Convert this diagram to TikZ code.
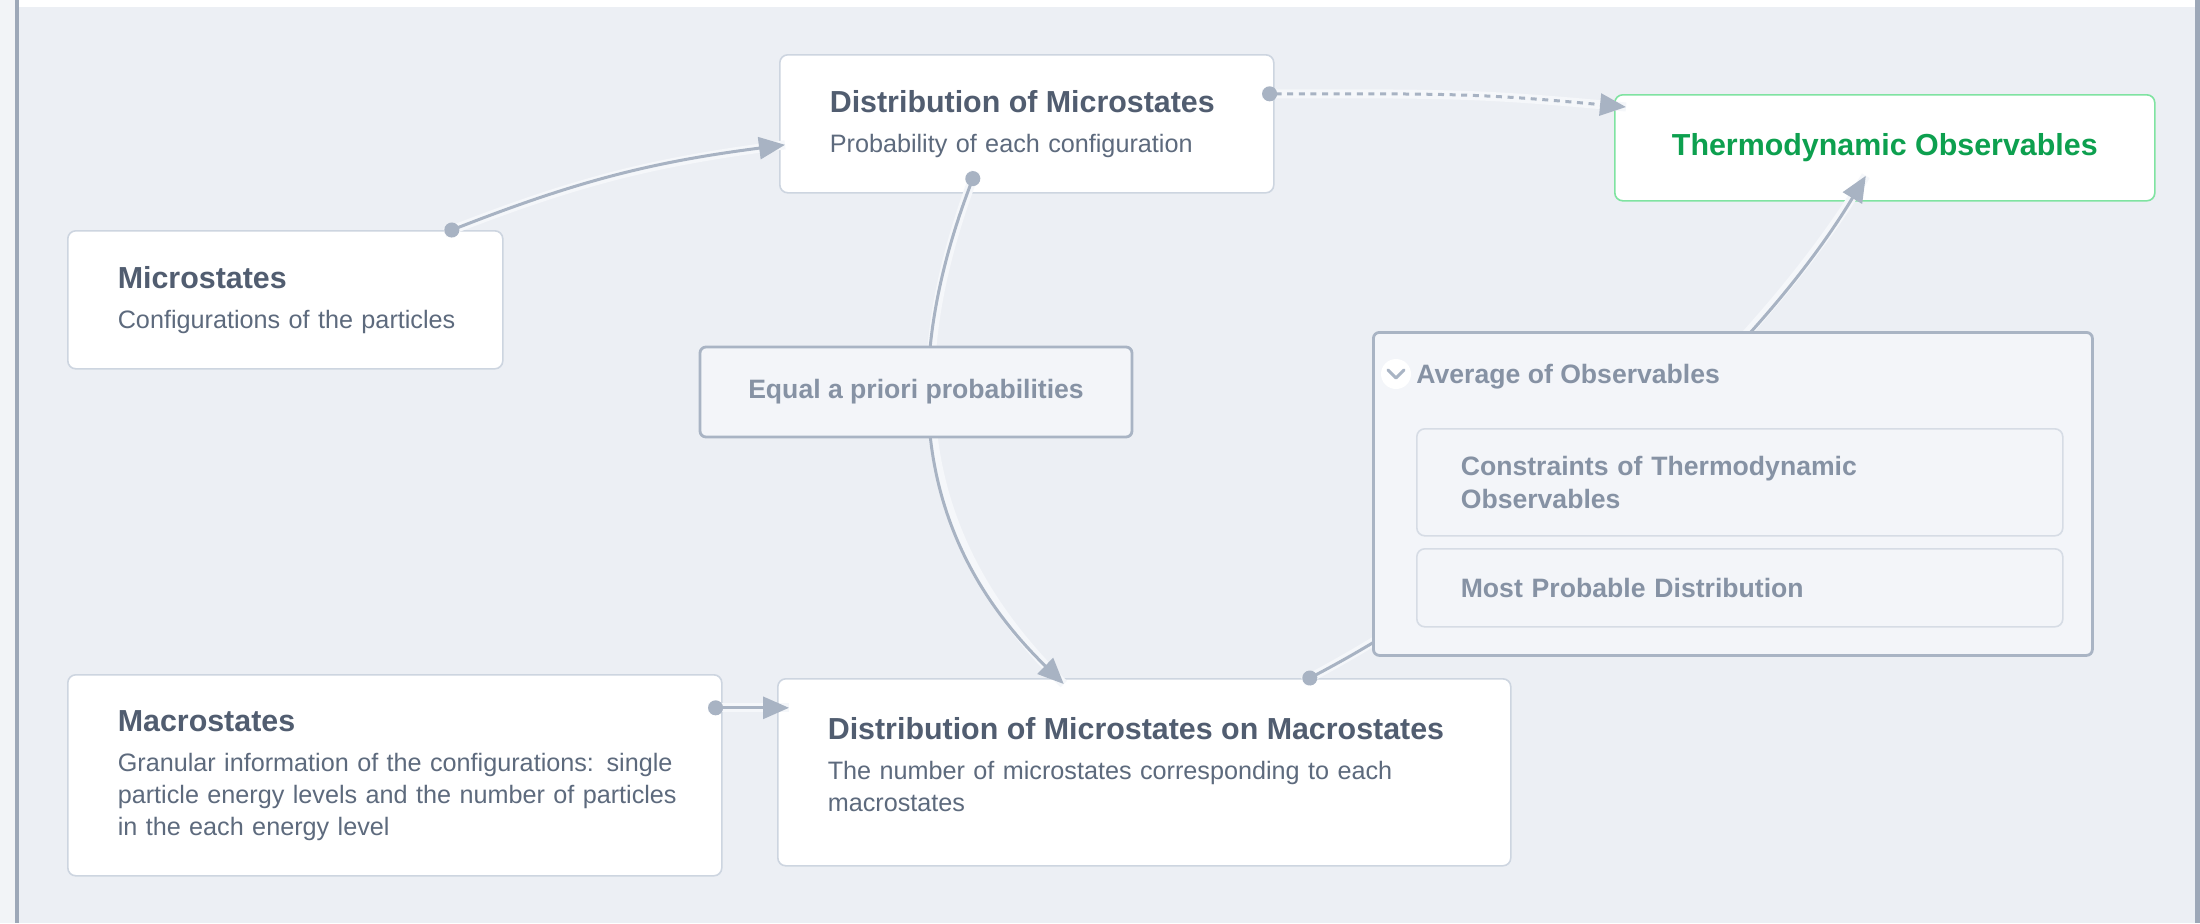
\documentclass[tikz,border=0pt]{standalone}
\usepackage{fontspec}
\setmainfont{Liberation Sans}
\usetikzlibrary{arrows.meta,positioning,calc}

\definecolor{bgcol}{HTML}{ECEFF4}
\definecolor{stripcol}{HTML}{F2F4F7}
\definecolor{framecol}{HTML}{9DA8B8}
\definecolor{cardline}{HTML}{CDD5E0}
\definecolor{titlecol}{HTML}{515D70}
\definecolor{subcol}{HTML}{5D6A7D}
\definecolor{edgecol}{HTML}{A8B3C3}
\definecolor{halocol}{HTML}{F5F7FA}
\definecolor{softfill}{HTML}{F3F5F9}
\definecolor{softline}{HTML}{A9B4C4}
\definecolor{innerline}{HTML}{D6DCE5}
\definecolor{softtext}{HTML}{8692A4}
\definecolor{greenline}{HTML}{7FE3A1}
\definecolor{greentext}{HTML}{0DA04F}

\newcommand{\ttlf}{\fontsize{15.2}{18}\selectfont\bfseries}
\newcommand{\subf}{\fontsize{12.6}{16}\selectfont\mdseries}
\newcommand{\softf}{\fontsize{13.3}{16.5}\selectfont\bfseries}
\newcommand{\cardtitle}[1]{{\ttlf\color{titlecol}#1}\\[4pt]}

\tikzset{
  card/.style 2 args={draw=cardline, fill=white, line width=0.8pt, rounded corners=4pt,
    anchor=north west, inner xsep=0pt, inner ysep=0pt, align=left,
    text width=#1, minimum height=#2, text=subcol, font=\subf,
    execute at begin node={\leftskip=25pt\relax\hyphenpenalty=10000\relax}},
  soft box/.style={draw=softline, fill=softfill, line width=1.4pt, rounded corners=3pt},
  inner box/.style 2 args={draw=innerline, fill=softfill, line width=0.8pt, rounded corners=4pt,
    anchor=north west, inner xsep=0pt, inner ysep=0pt, align=left,
    text width=#1, minimum height=#2, text=softtext, font=\softf,
    execute at begin node={\leftskip=22pt\relax\hyphenpenalty=10000\relax}},
  link/.style={draw=edgecol, line width=1.5pt,
    {Circle[length=7.5pt]}-{Triangle[length=13pt,width=11pt]}, shorten <=-3.75pt,
    preaction={draw=halocol, line width=4.5pt, arrows=-}}
}

\begin{document}
\begin{tikzpicture}[x=0.5pt, y=-0.5pt]
\useasboundingbox (0,0) rectangle (2200,923);

% Frame and background
\fill[stripcol] (0,0) rectangle (15,923);
\fill[white] (19,0) rectangle (2195,7);
\fill[bgcol] (19,7) rectangle (2195,923);
\fill[framecol] (15,0) rectangle (19,923);
\fill[framecol] (2195,0) rectangle (2200,923);

% Cards on the left and in the middle
\node[card={217.5pt}{69pt}] (micro) at (67,230)
  {\cardtitle{Microstates}Configurations of the particles};
\node[card={247pt}{69pt}] (distmicro) at (779,54)
  {\cardtitle{Distribution of Microstates}Probability of each configuration};
\node[card={327pt}{100.5pt}] (macro) at (67,674)
  {\cardtitle{Macrostates}Granular information of the configurations: single\\
   particle energy levels and the number of particles\\ in the each energy level};
\node[card={366.5pt}{93.5pt}] (distmacro) at (777,678)
  {\cardtitle{Distribution of Microstates on Macrostates}The number of microstates corresponding to each\\
   macrostates\\[-8pt]\mbox{}};

% Target on the upper right
\node[draw=greenline, fill=white, line width=0.8pt, rounded corners=4pt, anchor=north west,
  minimum width=270pt, minimum height=53pt, text=greentext, font=\ttlf] (thermo) at (1614,94)
  {Thermodynamic Observables};

% Connectors (the ones passing behind boxes first)
\draw[link] ([xshift=-27pt,yshift=7.5pt]distmicro.south) .. controls +(-62,163) and +(-168,-164) .. ([xshift=-40.25pt,yshift=-3pt]distmacro.north);
\draw[link] ([xshift=82.75pt]distmacro.north) .. controls +(191,-100) and +(-120,199) .. ([xshift=-9.5pt,yshift=-14pt]thermo.center);
\draw[link] ([xshift=83.25pt]micro.north) to[bend left=7] ([xshift=3pt,yshift=-10.5pt]distmicro.west);
\draw[link, dash pattern=on 3pt off 2.8pt] ([xshift=-2.5pt,yshift=15pt]distmicro.east)
  .. controls +(180,0) and +(-150,-14) .. ([xshift=6pt,yshift=-6.5pt]thermo.north west);
\draw[link] ([xshift=-3.5pt,yshift=33.75pt]macro.east) -- ([xshift=6pt,yshift=32.25pt]distmacro.west);

% Label box on the middle connector
\node[soft box, minimum width=216pt, minimum height=45pt, text=softtext, font=\softf] (equal) at (916,392)
  {Equal a priori probabilities};

% Group with two inner boxes
\node[soft box, anchor=north west, minimum width=359.5pt, minimum height=161.5pt] (avg) at (1372,331) {};
\node[circle, fill=white, minimum size=15pt, inner sep=0pt] (chev) at (1396,374) {};
\draw[softline, line width=1.5pt, line cap=round, line join=round]
  ([shift={(-4pt,2pt)}]chev.center) -- ([shift={(0pt,-2pt)}]chev.center) -- ([shift={(4pt,2pt)}]chev.center);
\node[anchor=base west, inner sep=0pt, text=softtext, font=\softf] (avghead) at (1416,383) {Average of Observables};
\node[inner box={323pt}{53.5pt}] (constr) at (1416,428) {Constraints of Thermodynamic\\ Observables};
\node[inner box={323pt}{39pt}] (mostprob) at (1416,548) {Most Probable Distribution};

\end{tikzpicture}
\end{document}
